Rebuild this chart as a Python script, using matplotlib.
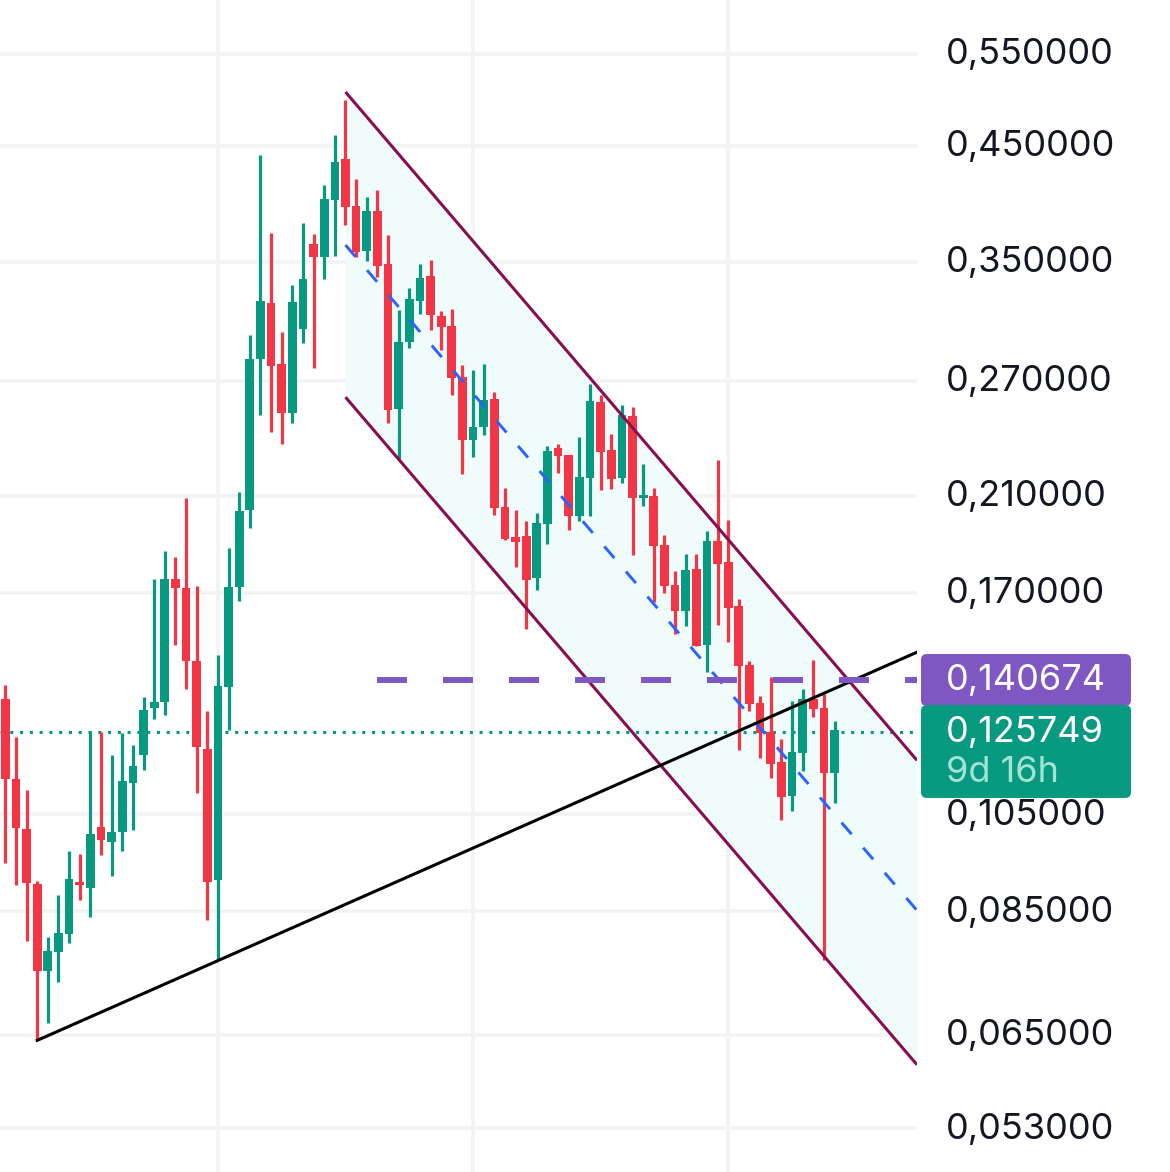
#!/usr/bin/env python3
"""Candlestick chart with a falling channel, log price axis."""

import matplotlib
matplotlib.use("Agg")
import matplotlib.pyplot as plt
from matplotlib.patches import FancyBboxPatch
from matplotlib.ticker import NullLocator
from matplotlib.transforms import ScaledTranslation

plt.rcParams['font.family'] = ['Inter', 'DejaVu Sans']

highs = [0.13921, 0.12428, 0.11078, 0.09085, 0.08034, 0.08802, 0.09696, 0.09635, 0.12597, 0.12557,
         0.11945, 0.12547, 0.12213, 0.13562, 0.17522, 0.18626, 0.18376, 0.20896, 0.17274, 0.13159,
         0.14857, 0.18774, 0.21180, 0.29797, 0.44137, 0.37212, 0.29992, 0.33226, 0.38032, 0.37131,
         0.41344, 0.46069, 0.49755, 0.41888, 0.40248, 0.40896, 0.37077, 0.31488, 0.33010, 0.34807,
         0.35112, 0.31419, 0.31556, 0.27932, 0.27627, 0.27995, 0.26317, 0.21397, 0.20396, 0.19884,
         0.20263, 0.23413, 0.23516, 0.22959, 0.23860, 0.26799, 0.26165, 0.24033, 0.25601, 0.25471,
         0.22513, 0.21397, 0.19314, 0.17832, 0.18504, 0.18504, 0.19455, 0.22710, 0.19927, 0.16801,
         0.14667, 0.13581, 0.14155, 0.12366, 0.13433, 0.13789, 0.14710, 0.13660, 0.12861]
body_tops = [0.13508, 0.11345, 0.10177, 0.09028, 0.07796, 0.08117, 0.09121, 0.09071, 0.10072, 0.10217,
             0.10104, 0.11300, 0.11674, 0.13190, 0.13423, 0.17522, 0.17522, 0.17205, 0.14681, 0.12107,
             0.13888, 0.17246, 0.20340, 0.28300, 0.32111, 0.31948, 0.27993, 0.32041, 0.33688, 0.36357,
             0.40102, 0.43469, 0.43754, 0.39495, 0.39067, 0.39067, 0.34807, 0.29367, 0.32251, 0.33761,
             0.33909, 0.31079, 0.30409, 0.27191, 0.24403, 0.25881, 0.25938, 0.20500, 0.19203, 0.19244,
             0.19797, 0.23160, 0.23311, 0.22959, 0.21884, 0.25825, 0.25769, 0.23210, 0.25049, 0.24995,
             0.21043, 0.21027, 0.18871, 0.17296, 0.17870, 0.17909, 0.19036, 0.19036, 0.18185, 0.16522,
             0.14529, 0.13385, 0.12574, 0.11762, 0.12021, 0.13492, 0.13492, 0.13230, 0.12629]
body_bottoms = [0.11345, 0.10193, 0.09049, 0.07469, 0.07469, 0.07783, 0.08098, 0.09014, 0.08942, 0.09937,
                0.09898, 0.10112, 0.11255, 0.11945, 0.13232, 0.13401, 0.17192, 0.14658, 0.12155, 0.09071,
                0.09107, 0.13855, 0.17246, 0.20372, 0.28320, 0.27891, 0.25177, 0.25177, 0.30233, 0.35342,
                0.35368, 0.40015, 0.39438, 0.35703, 0.35807, 0.34681, 0.25324, 0.25397, 0.29389, 0.32111,
                0.31147, 0.30343, 0.27172, 0.23739, 0.23739, 0.24421, 0.20470, 0.19119, 0.18995, 0.17485,
                0.17574, 0.19769, 0.22909, 0.20102, 0.20102, 0.21852, 0.23109, 0.21789, 0.21837, 0.20921,
                0.20906, 0.18843, 0.17271, 0.16355, 0.16355, 0.15166, 0.15188, 0.18106, 0.16451, 0.14498,
                0.13346, 0.12547, 0.11719, 0.10898, 0.10922, 0.11995, 0.13201, 0.11483, 0.11483]
lows = [0.09453, 0.09014, 0.07971, 0.06419, 0.06668, 0.07293, 0.07939, 0.08718, 0.08406, 0.09619,
        0.09179, 0.09696, 0.10152, 0.11572, 0.12931, 0.13034, 0.15179, 0.13811, 0.10991, 0.08346,
        0.07643, 0.12627, 0.16708, 0.19611, 0.25049, 0.24156, 0.23550, 0.24634, 0.29325, 0.27770,
        0.33712, 0.35445, 0.37894, 0.35368, 0.35035, 0.33860, 0.24634, 0.22759, 0.28965, 0.31215,
        0.30145, 0.28860, 0.26165, 0.22028, 0.22875, 0.23999, 0.20160, 0.19078, 0.18001, 0.15738,
        0.17109, 0.18926, 0.22092, 0.19498, 0.19898, 0.20116, 0.21273, 0.21319, 0.21616, 0.18464,
        0.20559, 0.16679, 0.17009, 0.15567, 0.15818, 0.15166, 0.14320, 0.15852, 0.15276, 0.12073,
        0.13144, 0.11873, 0.11359, 0.10366, 0.10571, 0.11533, 0.12973, 0.07641, 0.10764]
up_candles = [4, 5, 6, 8, 10, 11, 12, 13, 14, 15, 20, 21, 22, 23, 24, 27, 28, 30, 31, 34, 37, 38, 39,
              44, 45, 50, 51, 54, 55, 58, 60, 64, 66, 74, 75, 78]

price_ticks = [0.55, 0.45, 0.35, 0.27, 0.21, 0.17, 0.105, 0.085, 0.065, 0.053]
time_ticks = [20, 44, 68]

# drawings: (bar, price) at each end
channel_x = [32, 85.76]
channel_upper = [0.5063, 0.11813]
channel_mid = [0.3628, 0.0852]
channel_lower = [0.2605, 0.06088]
trend_x = [3, 85.76]
trend_y = [0.0642, 0.1495]
level_price = 0.140674
level_start = 35
last_price = 0.125749
countdown = "9d 16h"

GREEN = "#089981"
RED = "#f23645"
PURPLE = "#7e57c2"
MAROON = "#880e4f"
BLUE = "#2962ff"
GRID = "#f2f3f5"
INK = "#131722"
FONT_SIZE = 26


def price_label(p):
    return f"{p:.6f}".replace(".", ",")


fig = plt.figure(figsize=(11.7, 11.72), dpi=100)
ax = fig.add_axes([0, 0, 917 / 1170, 1])
ax.set_yscale("log")
ax.set_xlim(-0.5, 85.76)
ax.set_ylim(0.0482, 0.6186)

ax.yaxis.tick_right()
ax.set_yticks(price_ticks)
ax.set_yticklabels([price_label(p) for p in price_ticks], fontsize=FONT_SIZE, color=INK)
ax.yaxis.set_minor_locator(NullLocator())
ax.set_xticks(time_ticks)
ax.set_xticklabels([])
ax.tick_params(length=0, axis="both", which="both")
ax.tick_params(axis="y", pad=21)
shift_up = ScaledTranslation(0, 2 / 72, fig.dpi_scale_trans)
for lab in ax.get_yticklabels():
    lab.set_transform(lab.get_transform() + shift_up)
for spine in ax.spines.values():
    spine.set_visible(False)
ax.grid(True, color=GRID, linewidth=2.6)
ax.set_axisbelow(True)

ax.fill_between(channel_x, channel_lower, channel_upper, color="#f0fbfb", linewidth=0, zorder=1)

for i in range(len(highs)):
    col = GREEN if i in up_candles else RED
    ax.vlines(i, lows[i], highs[i], color=col, linewidth=2.3, zorder=3)
    ax.bar(i, body_tops[i] - body_bottoms[i], bottom=body_bottoms[i], width=0.82, color=col,
           linewidth=0, zorder=3)

ax.axhline(last_price, color=GREEN, linewidth=2.2, linestyle=(0, (1, 2.2)), zorder=2)
ax.plot(channel_x, channel_mid, color=BLUE, linewidth=2.1, linestyle=(0, (5.25, 6.1)), zorder=4,
        dash_capstyle="butt")
ax.plot(channel_x, channel_upper, color=MAROON, linewidth=2.2, zorder=4, solid_capstyle="butt")
ax.plot(channel_x, channel_lower, color=MAROON, linewidth=2.2, zorder=4, solid_capstyle="butt")
ax.plot(trend_x, trend_y, color="black", linewidth=2.2, zorder=5)
ax.plot([level_start, 85.76], [level_price, level_price], color=PURPLE, linewidth=4.3,
        linestyle=(0, (5.02, 6.03)), zorder=5, dash_capstyle="butt")

# price tags on the axis
W, H = 1170, 1172


def tag(x0, y0, x1, y1, col):
    box = FancyBboxPatch((x0 / W, 1 - y1 / H), (x1 - x0) / W, (y1 - y0) / H,
                         boxstyle="round,pad=0,rounding_size=0.005", transform=fig.transFigure,
                         facecolor=col, edgecolor="none", zorder=6)
    fig.add_artist(box)


tag(921, 654, 1131, 706, PURPLE)
tag(921, 705, 1131, 798, GREEN)
fig.text(946 / W, 1 - 680 / H, price_label(level_price), color="white", fontsize=FONT_SIZE, va="center", zorder=7)
fig.text(946 / W, 1 - 732 / H, price_label(last_price), color="white", fontsize=FONT_SIZE, va="center", zorder=7)
fig.text(946 / W, 1 - 773 / H, countdown, color="#a3e3d3", fontsize=FONT_SIZE, va="center", zorder=7)

fig.savefig("out.png", dpi=100)
